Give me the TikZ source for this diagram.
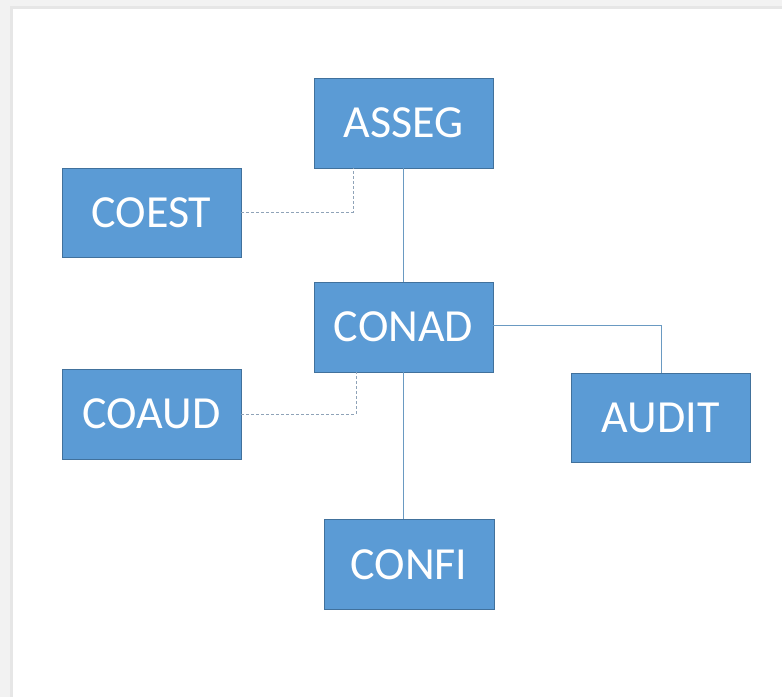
\documentclass[tikz,border=0pt]{standalone}
\usepackage{fontspec}
\setmainfont{Carlito}
\definecolor{boxfill}{HTML}{5B9BD5}
\definecolor{boxedge}{HTML}{41719C}
\definecolor{solidln}{HTML}{6A9AC2}
\definecolor{dashln}{HTML}{8FA3B8}
\definecolor{pagegray}{HTML}{F2F2F2}
\definecolor{edgegray}{HTML}{E6E6E6}
\begin{document}
\begin{tikzpicture}[x=1pt,y=-1pt,
  orgbox/.style={draw=boxedge, fill=boxfill, line width=0.8pt, text=white,
    font=\fontsize{46}{52}\selectfont, inner sep=0pt},
  solidconn/.style={draw=solidln, line width=1pt},
  dashconn/.style={draw=dashln, line width=1pt, dash pattern=on 3pt off 2pt}]
  \fill[pagegray] (0,0) rectangle (782,697);
  \fill[edgegray] (10,6) rectangle (782,697);
  \fill[white] (13,9) rectangle (782,697);
  \useasboundingbox (0,0) rectangle (782,697);

  \node[orgbox, minimum width=179pt, minimum height=90pt] (asseg) at (403.5,123) {ASSEG};
  \node[orgbox, minimum width=179pt, minimum height=89pt] (coest) at (151.5,212.5) {COEST};
  \node[orgbox, minimum width=179pt, minimum height=90pt] (conad) at (403.5,327) {CONAD};
  \node[orgbox, minimum width=179pt, minimum height=90pt] (coaud) at (151.5,414) {COAUD};
  \node[orgbox, minimum width=179pt, minimum height=89pt] (audit) at (660.5,417.5) {AUDIT};
  \node[orgbox, minimum width=170pt, minimum height=90pt] (confi) at (409,564.5) {CONFI};

  \coordinate (j1) at (353,212);
  \coordinate (j2) at (356,414);
  \coordinate (j3) at (661.5,325);

  \draw[solidconn] (asseg.south) -- (conad.north);
  \draw[solidconn] (conad.south) -- (conad.south |- confi.north);
  \draw[solidconn] (conad.east |- j3) -- (j3) -- (j3 |- audit.north);
  \draw[dashconn] (coest.east |- j1) -- (j1) -- (j1 |- asseg.south);
  \draw[dashconn] (coaud.east |- j2) -- (j2) -- (j2 |- conad.south);
\end{tikzpicture}
\end{document}
